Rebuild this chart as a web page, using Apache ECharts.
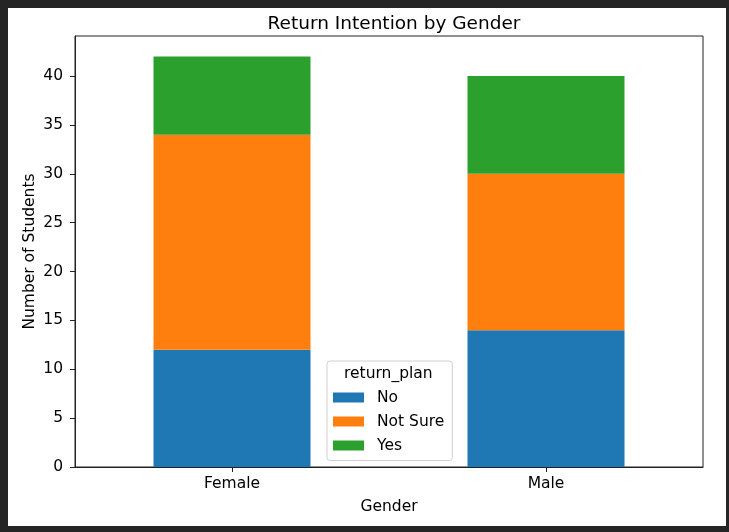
<!DOCTYPE html>
<html>
<head>
<meta charset="utf-8">
<script src="https://cdn.jsdelivr.net/npm/echarts@6/dist/echarts.min.js"></script>
<style>
html,body{margin:0;padding:0;background:#252525;}
#c{width:729px;height:532px;}
</style>
</head>
<body>
<div id="c"></div>
<script>
const categories = ['Female', 'Male'];
const noValues = [12, 14];
const notSureValues = [22, 16];
const yesValues = [8, 10];
const yTicks = [0, 5, 10, 15, 20, 25, 30, 35, 40];
const seriesNames = ['No', 'Not Sure', 'Yes'];
const colors = ['#1f77b4', '#ff7f0e', '#2ca02c'];

const FONT = 'DejaVu Sans';
const FS = 15.5;
const chart = echarts.init(document.getElementById('c'), null, {renderer: 'canvas'});
const dataSets = [noValues, notSureValues, yesValues];

chart.setOption({
  animation: false,
  backgroundColor: '#252525',
  graphic: [
    {type: 'rect', z: -10, silent: true, shape: {x: 8, y: 8, width: 718, height: 518}, style: {fill: '#ffffff'}},
    {type: 'text', z: 100, left: 344, top: 366, silent: true,
     style: {text: 'return_plan', font: FS + 'px "DejaVu Sans"', fill: '#000'}}
  ],
  title: {
    text: 'Return Intention by Gender',
    left: 389, top: 10, textAlign: 'center',
    textStyle: {fontFamily: FONT, fontSize: 18.5, fontWeight: 'normal', color: '#000'}
  },
  grid: {
    left: 75, top: 36, right: 26, bottom: 65,
    show: true, borderColor: '#222', borderWidth: 1, backgroundColor: '#fff'
  },
  legend: {
    orient: 'vertical',
    left: 327, top: 361,
    data: seriesNames,
    icon: 'rect',
    itemWidth: 31, itemHeight: 10,
    itemGap: 8,
    padding: [28.5, 8, 7, 6],
    backgroundColor: '#fff',
    borderColor: '#d0d0d0', borderWidth: 1, borderRadius: 3,
    selectedMode: false,
    textStyle: {fontFamily: FONT, fontSize: FS, color: '#000', lineHeight: 15, padding: [0, 0, 0, 8]}
  },
  xAxis: {
    type: 'category',
    data: categories,
    name: 'Gender',
    nameLocation: 'middle',
    nameGap: 32,
    nameTextStyle: {fontFamily: FONT, fontSize: FS, color: '#000'},
    axisLine: {show: true, lineStyle: {color: '#222', width: 1}},
    axisTick: {show: true, alignWithLabel: true, length: 5, lineStyle: {color: '#222'}},
    axisLabel: {fontFamily: FONT, fontSize: FS, color: '#000', margin: 9},
    splitLine: {show: false}
  },
  yAxis: {
    type: 'value',
    min: 0, max: 44.1,
    name: 'Number of Students',
    nameLocation: 'middle',
    nameGap: 37,
    nameMoveOverlap: false,
    nameTextStyle: {fontFamily: FONT, fontSize: FS, color: '#000'},
    axisLine: {show: true, lineStyle: {color: '#222', width: 1}},
    axisTick: {show: true, length: 5, lineStyle: {color: '#222'}, customValues: yTicks},
    axisLabel: {fontFamily: FONT, fontSize: FS, color: '#000', margin: 12, customValues: yTicks},
    splitLine: {show: false}
  },
  series: seriesNames.map((name, i) => ({
    name: name,
    type: 'bar',
    stack: 'total',
    barWidth: '50%',
    data: dataSets[i],
    itemStyle: {color: colors[i]},
    emphasis: {disabled: true}
  }))
});
</script>
</body>
</html>
